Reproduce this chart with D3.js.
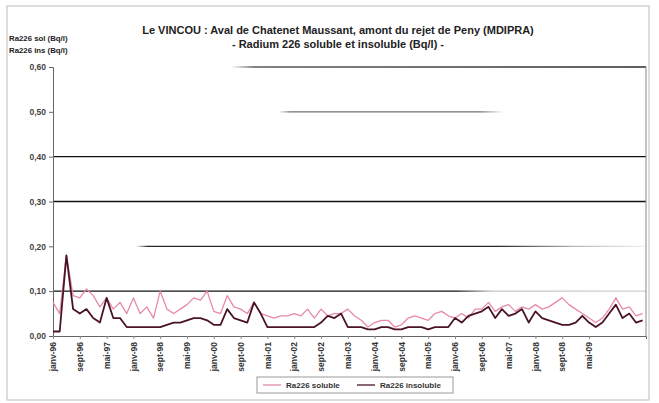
<!DOCTYPE html>
<html><head><meta charset="utf-8">
<script src="https://cdn.jsdelivr.net/npm/d3@7"></script>
<style>
html,body{margin:0;padding:0;background:#fff;}
svg{display:block;font-family:"Liberation Sans",Arial,sans-serif;}
</style></head>
<body><svg id="c" width="659" height="403"></svg>
<script>
const titleLines = ["Le VINCOU : Aval de Chatenet Maussant, amont du rejet de Peny (MDIPRA)",
                    "- Radium 226 soluble et insoluble (Bq/l) -"];
const yTitleLines = ["Ra226 sol (Bq/l)", "Ra226 ins (Bq/l)"];
const seriesNames = ["Ra226 soluble", "Ra226 insoluble"];
const yTicks = [0, 0.1, 0.2, 0.3, 0.4, 0.5, 0.6];
const xLabels = ["janv-96","sept-96","mai-97","janv-98","sept-98","mai-99","janv-00","sept-00",
  "mai-01","janv-02","sept-02","mai-03","janv-04","sept-04","mai-05","janv-06","sept-06",
  "mai-07","janv-08","sept-08","mai-09"];
const soluble = [0.075,0.05,0.18,0.09,0.085,0.105,0.09,0.065,0.085,0.06,
  0.075,0.05,0.085,0.05,0.065,0.04,0.10,0.06,0.05,0.06,
  0.07,0.085,0.08,0.10,0.055,0.05,0.09,0.065,0.06,0.05,
  0.075,0.05,0.045,0.04,0.045,0.045,0.05,0.045,0.06,0.04,
  0.06,0.045,0.05,0.05,0.06,0.045,0.035,0.02,0.03,0.035,
  0.035,0.02,0.025,0.04,0.045,0.04,0.035,0.05,0.055,0.045,
  0.04,0.05,0.04,0.06,0.06,0.075,0.055,0.065,0.07,0.055,
  0.065,0.06,0.07,0.06,0.065,0.075,0.085,0.07,0.06,0.05,
  0.04,0.03,0.04,0.06,0.085,0.06,0.065,0.045,0.05];
const insoluble = [0.01,0.01,0.18,0.06,0.05,0.06,0.04,0.03,0.085,0.04,
  0.04,0.02,0.02,0.02,0.02,0.02,0.02,0.025,0.03,0.03,
  0.035,0.04,0.04,0.035,0.025,0.025,0.06,0.04,0.035,0.03,
  0.075,0.05,0.02,0.02,0.02,0.02,0.02,0.02,0.02,0.02,
  0.03,0.045,0.04,0.05,0.02,0.02,0.02,0.015,0.015,0.02,
  0.02,0.015,0.015,0.02,0.02,0.02,0.015,0.02,0.02,0.02,
  0.04,0.03,0.045,0.05,0.055,0.065,0.04,0.06,0.045,0.05,
  0.06,0.03,0.055,0.04,0.035,0.03,0.025,0.025,0.03,0.045,
  0.03,0.02,0.03,0.05,0.07,0.04,0.05,0.03,0.035];
const labelEvery = 4;

const colSol = "#e78aaa", colIns = "#4a1426";
const svg = d3.select("#c");
const L = 53, R = 646, T = 67, B = 336;
const x = d3.scaleLinear().domain([0, soluble.length - 0.5]).range([L, R]);
const y = d3.scaleLinear().domain([0, 0.6]).range([B, T]);

// outer frame
svg.append("rect").attr("x",7).attr("y",6).attr("width",642).attr("height",394)
  .attr("fill","none").attr("stroke","#bbb").attr("stroke-width",1);

// gradients for faded gridlines (scan look)
const fades = {
  "0.1": [[0,1],[0.68,1],[0.74,0.25],[1,0.2]],
  "0.2": [[0,0],[0.14,0],[0.16,0.9],[0.75,0.9],[0.88,0.3],[1,0.05]],
  "0.3": [[0,1],[1,1]],
  "0.4": [[0,1],[1,1]],
  "0.5": [[0,0],[0.38,0],[0.4,0.6],[0.72,0.6],[0.76,0],[1,0]],
  "0.6": [[0,0],[0.3,0],[0.34,0.7],[1,0.9]]
};
const defs = svg.append("defs");
yTicks.filter(t => t > 0).forEach((t,i) => {
  const g = defs.append("linearGradient").attr("id","gf"+i)
    .attr("gradientUnits","userSpaceOnUse").attr("x1",L).attr("x2",R).attr("y1",0).attr("y2",0);
  (fades[String(t)] || [[0,1],[1,1]]).forEach(s =>
    g.append("stop").attr("offset",s[0]).attr("stop-color","#111").attr("stop-opacity",s[1]));
});
svg.append("g").selectAll("line").data(yTicks.filter(t => t > 0)).join("line")
  .attr("x1",L).attr("x2",R).attr("y1",d=>y(d)).attr("y2",d=>y(d))
  .attr("stroke",(d,i)=>"url(#gf"+i+")").attr("stroke-width",1.3);

// plot right border
svg.append("line").attr("x1",R).attr("x2",R).attr("y1",T).attr("y2",B).attr("stroke","#888");

// y axis
const yAxis = svg.append("g").attr("transform",`translate(${L},0)`)
  .call(d3.axisLeft(y).tickValues(yTicks).tickSize(4).tickFormat(d => d3.format(".2f")(d).replace(".",",")));
yAxis.select(".domain").attr("stroke","#666");
yAxis.selectAll(".tick line").attr("stroke","#666");
yAxis.selectAll("text").attr("font-size",8.5).attr("font-weight","bold").attr("fill","#444").attr("x",-7);

// x axis
const tickIdx = xLabels.map((d,i) => i*labelEvery);
const xAxis = svg.append("g").attr("transform",`translate(0,${B})`)
  .call(d3.axisBottom(x).tickValues(tickIdx).tickSize(3).tickFormat((d,i)=>xLabels[i]));
xAxis.select(".domain").attr("stroke","#666");
xAxis.selectAll(".tick line").attr("stroke","#888");
xAxis.selectAll("text").attr("font-size",8.5).attr("font-weight","bold").attr("fill","#333")
  .attr("transform","rotate(-90)").attr("text-anchor","end").attr("dy","0.32em").attr("x",-6).attr("y",0);

// lines
const line = d3.line().x((d,i)=>x(i)).y(d=>y(d));
svg.append("path").datum(soluble).attr("d",line).attr("fill","none")
  .attr("stroke",colSol).attr("stroke-width",1.3).attr("stroke-linejoin","round");
svg.append("path").datum(insoluble).attr("d",line).attr("fill","none")
  .attr("stroke",colIns).attr("stroke-width",1.8).attr("stroke-linejoin","round");

// titles
const tt = svg.append("text").attr("text-anchor","middle").attr("font-size",11)
  .attr("font-weight","bold").attr("fill","#222");
tt.selectAll("tspan").data(titleLines).join("tspan")
  .attr("x",338).attr("y",(d,i)=>34+i*14).text(d=>d);
const yt = svg.append("text").attr("font-size",7.8).attr("font-weight","bold").attr("fill","#222");
yt.selectAll("tspan").data(yTitleLines).join("tspan")
  .attr("x",9).attr("y",(d,i)=>41+i*12).text(d=>d);

// legend
const lg = svg.append("g");
lg.append("rect").attr("x",257).attr("y",377).attr("width",196).attr("height",16)
  .attr("fill","#fff").attr("stroke","#999");
const items = [{n:seriesNames[0],c:colSol,x:263},{n:seriesNames[1],c:colIns,x:357}];
items.forEach(it => {
  lg.append("line").attr("x1",it.x).attr("x2",it.x+18).attr("y1",385).attr("y2",385)
    .attr("stroke",it.c).attr("stroke-width",1.3);
  lg.append("text").attr("x",it.x+23).attr("y",388).attr("font-size",8)
    .attr("font-weight","bold").attr("fill","#333").text(it.n);
});
</script></body></html>
